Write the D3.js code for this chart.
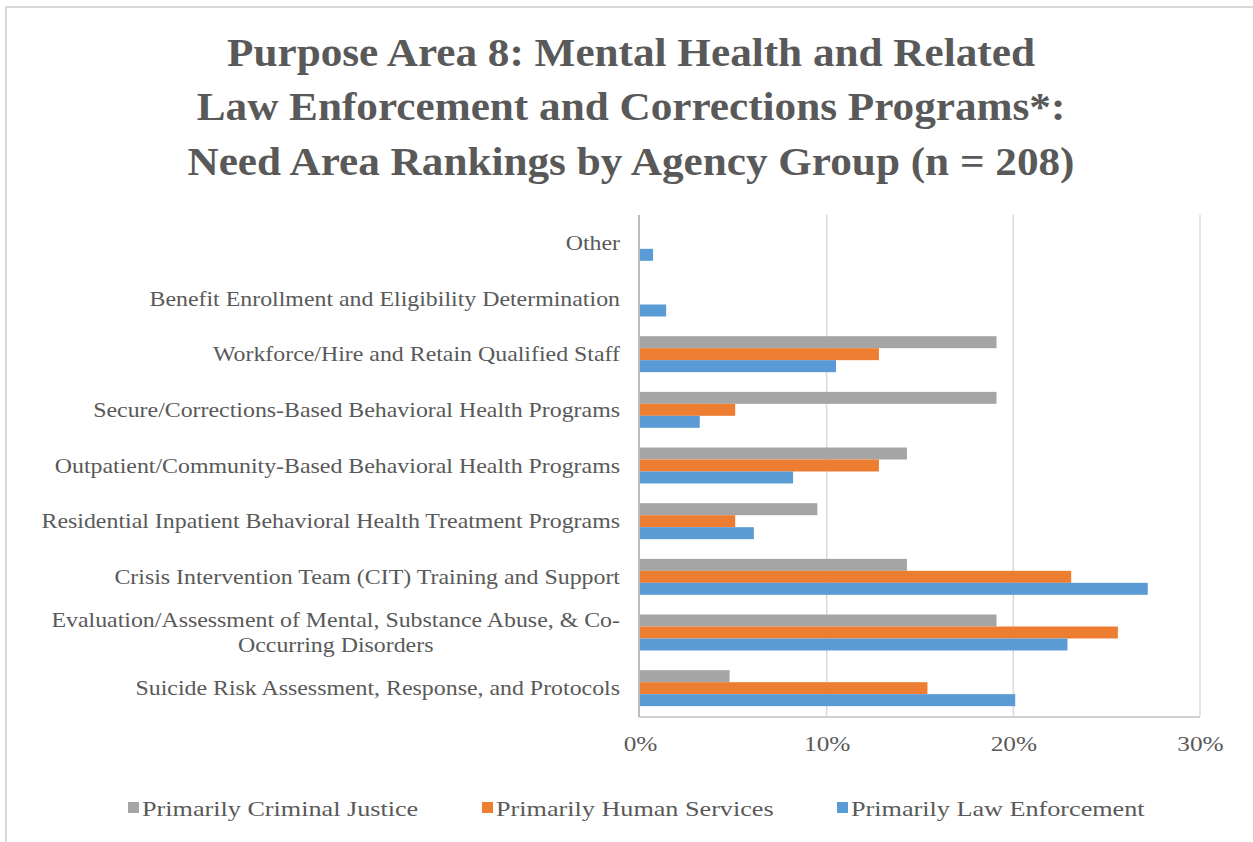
<!DOCTYPE html>
<html>
<head>
<meta charset="utf-8">
<script src="https://cdn.jsdelivr.net/npm/d3@7"></script>
<style>
  body { margin: 0; background: #fff; }
  text { font-family: "Liberation Serif", "Times New Roman", serif; fill: #595959; }
</style>
</head>
<body>
<script>
// Need areas, top to bottom as drawn
const categories = [
  'Other',
  'Benefit Enrollment and Eligibility Determination',
  'Workforce/Hire and Retain Qualified Staff',
  'Secure/Corrections-Based Behavioral Health Programs',
  'Outpatient/Community-Based Behavioral Health Programs',
  'Residential Inpatient Behavioral Health Treatment Programs',
  'Crisis Intervention Team (CIT) Training and Support',
  'Evaluation/Assessment of Mental, Substance Abuse, & Co-|Occurring Disorders',
  'Suicide Risk Assessment, Response, and Protocols'
];

const seriesNames = ['Primarily Criminal Justice', 'Primarily Human Services', 'Primarily Law Enforcement'];
const seriesColors = ['#a5a5a5', '#ed7d31', '#5b9bd5'];

// percent values, same order as categories
const criminalJustice = [0, 0, 19.1, 19.1, 14.3, 9.5, 14.3, 19.1, 4.8];
const humanServices   = [0, 0, 12.8, 5.1, 12.8, 5.1, 23.1, 25.6, 15.4];
const lawEnforcement  = [0.7, 1.4, 10.5, 3.2, 8.2, 6.1, 27.2, 22.9, 20.1];

const xTicks = [0, 10, 20, 30];

const titleLines = [
  'Purpose Area 8: Mental Health and Related',
  'Law Enforcement and Corrections Programs*:',
  'Need Area Rankings by Agency Group (n = 208)'
];

const W = 1253, H = 842;
// the original render is a bit wider than the font, stretch text horizontally
const STRETCH_TITLE = 1.08, STRETCH_LABEL = 1.137, STRETCH_TICK = 1.15, STRETCH_LEGEND = 1.19;

const svg = d3.select('body').append('svg').attr('width', W).attr('height', H);

// chart border
svg.append('rect')
  .attr('x', 6).attr('y', 7)
  .attr('width', W + 20).attr('height', H + 20)
  .attr('fill', 'none').attr('stroke', '#d9d9d9').attr('stroke-width', 2);

// title
svg.append('g')
  .attr('transform', `translate(631,0) scale(${STRETCH_TITLE},1)`)
  .append('text')
  .attr('text-anchor', 'middle')
  .attr('font-weight', 'bold')
  .attr('font-size', '40px')
  .selectAll('tspan')
  .data(titleLines)
  .enter()
  .append('tspan')
    .attr('x', 0)
    .attr('y', (d, i) => 66 + i * 54.5)
    .text(d => d);

const LEFT = 640, RIGHT = 1200, TOP = 215, BOTTOM = 716;

const x = d3.scaleLinear().domain([0, 30]).range([LEFT, RIGHT]);
const y = d3.scaleBand().domain(d3.range(categories.length)).range([TOP, BOTTOM]).paddingInner(0.354).paddingOuter(0.177);
const ySub = d3.scaleBand().domain(d3.range(3)).range([0, y.bandwidth()]);

// gridlines
svg.append('g')
  .selectAll('line')
  .data(xTicks.slice(1))
  .enter()
  .append('line')
    .attr('x1', d => x(d)).attr('x2', d => x(d))
    .attr('y1', TOP).attr('y2', BOTTOM)
    .attr('stroke', '#d9d9d9').attr('stroke-width', 1.5);

// bars
const series = [criminalJustice, humanServices, lawEnforcement];
series.forEach((vals, s) => {
  svg.append('g')
    .selectAll('rect')
    .data(vals)
    .enter()
    .append('rect')
      .attr('x', x(0))
      .attr('y', (d, i) => y(i) + ySub(s))
      .attr('width', d => x(d) - x(0))
      .attr('height', ySub.bandwidth())
      .attr('fill', seriesColors[s]);
});

// bottom and left axis lines
svg.append('line')
  .attr('x1', LEFT).attr('x2', RIGHT).attr('y1', BOTTOM + 1).attr('y2', BOTTOM + 1)
  .attr('stroke', '#bfbfbf').attr('stroke-width', 1.5);
svg.append('line')
  .attr('x1', LEFT - 1).attr('x2', LEFT - 1).attr('y1', TOP).attr('y2', BOTTOM + 1.5)
  .attr('stroke', '#a6a6a6').attr('stroke-width', 1.5);

// x tick labels
const xAxis = d3.axisBottom(x).tickValues(xTicks).tickFormat(d => d + '%').tickSize(0).tickPadding(0);
const gx = svg.append('g').attr('transform', `translate(0,${BOTTOM + 19})`).call(xAxis);
gx.select('.domain').remove();
gx.selectAll('.tick text')
  .attr('transform', `scale(${STRETCH_TICK},1)`)
  .attr('font-size', '22px')
  .attr('font-family', '"Liberation Serif", serif')
  .attr('fill', '#595959');

// category labels
const labels = svg.append('g');
categories.forEach((c, i) => {
  const lines = c.split('|');
  const cy = y(i) + y.bandwidth() / 2;
  const lh = 26;
  const t = labels.append('g')
    .attr('transform', `translate(620,${cy}) scale(${STRETCH_LABEL},1)`)
    .append('text').attr('font-size', '21px');
  const spans = lines.map((l, j) => t.append('tspan')
    .attr('y', 7 + (j - (lines.length - 1) / 2) * lh)
    .text(l));
  if (lines.length === 1) {
    t.attr('text-anchor', 'end');
    spans[0].attr('x', 0);
  } else {
    const widest = d3.max(spans, sp => sp.node().getComputedTextLength());
    t.attr('text-anchor', 'middle');
    spans.forEach(sp => sp.attr('x', -widest / 2));
  }
});

// legend
const legendX = [128, 482, 837];
const legend = svg.append('g');
seriesNames.forEach((n, i) => {
  legend.append('rect')
    .attr('x', legendX[i]).attr('y', 802)
    .attr('width', 11).attr('height', 11)
    .attr('fill', seriesColors[i]);
  legend.append('g')
    .attr('transform', `translate(${legendX[i] + 14},816) scale(${STRETCH_LEGEND},1)`)
    .append('text')
    .attr('font-size', '22px')
    .text(n);
});
</script>
</body>
</html>
